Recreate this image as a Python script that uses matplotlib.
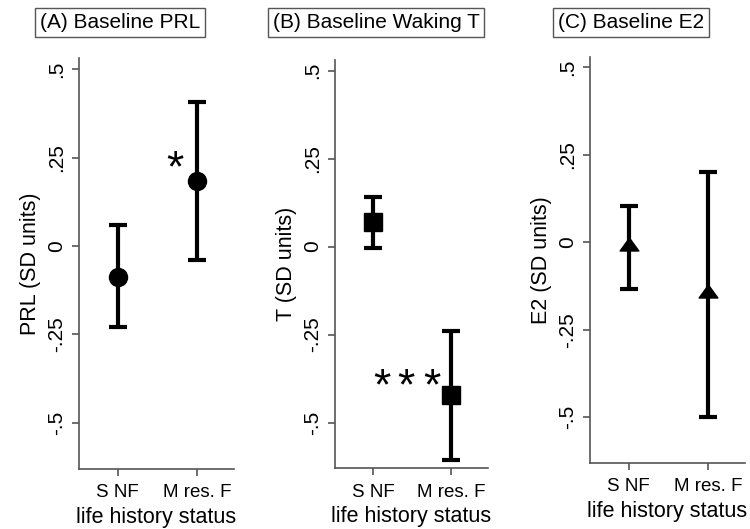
import matplotlib.pyplot as plt
from matplotlib.path import Path

plt.rcParams["font.family"] = ["Liberation Sans", "DejaVu Sans"]

groups = ["S NF", "M res. F"]
xpos = [1, 2]

prl_est = [-0.088, 0.184]
prl_lo = [-0.229, -0.039]
prl_hi = [0.059, 0.407]

t_est = [0.069, -0.422]
t_lo = [-0.005, -0.607]
t_hi = [0.141, -0.240]

e2_est = [-0.011, -0.145]
e2_lo = [-0.135, -0.500]
e2_hi = [0.103, 0.201]

yticks = [-0.5, -0.25, 0, 0.25, 0.5]
ytick_labels = ["-.5", "-.25", "0", ".25", ".5"]

titles = ["(A) Baseline PRL", "(B) Baseline Waking T", "(C) Baseline E2"]
ylabels = ["PRL (SD units)", "T (SD units)", "E2 (SD units)"]
# significance stars: (x, y) centre of each star, in data units
star_marks = [[(1.72, 0.241)],
              [(1.106, -0.376), (1.42, -0.376), (1.748, -0.376)],
              []]

tri = Path([(-1, -0.48), (1, -0.48), (0, 0.9), (-1, -0.48)],
           [Path.MOVETO, Path.LINETO, Path.LINETO, Path.CLOSEPOLY])
markers = ["o", "s", tri]
msizes = [13, 12.5, 13.5]

W, H = 750, 529
fig = plt.figure(figsize=(7.5, 5.29), dpi=100)

# axes boxes in pixels: left, right, top, bottom
boxes = [(79, 234, 58.4, 469), (335, 488, 60, 468.3), (590, 745, 56.7, 462.7)]
title_x = [40, 273, 558]

data = [(prl_est, prl_lo, prl_hi), (t_est, t_lo, t_hi), (e2_est, e2_lo, e2_hi)]
gray = "#555555"
star_fs = 32

for i, (est, lo, hi) in enumerate(data):
    l, r, t, b = boxes[i]
    ax = fig.add_axes([l / W, 1 - b / H, (r - l) / W, (b - t) / H])
    yerr = [[e - a for e, a in zip(est, lo)], [c - e for e, c in zip(est, hi)]]
    ax.errorbar(xpos, est, yerr=yerr, fmt="none", ecolor="black",
                elinewidth=3, capsize=6.5, capthick=3)
    ax.plot(xpos, est, linestyle="none", marker=markers[i], color="black",
            markersize=msizes[i])
    ax.set_xlim(0.51, 2.47)
    ax.set_ylim(-0.63, 0.53)
    ax.set_yticks(yticks)
    ax.set_yticklabels(ytick_labels, rotation=90, va="center")
    ax.set_xticks(xpos)
    ax.set_xticklabels(groups)
    ax.tick_params(color=gray, width=1.2, length=5)
    ax.tick_params(axis="y", pad=4, labelsize=15)
    ax.tick_params(axis="x", pad=6, labelsize=13.5)
    for s in ["top", "right"]:
        ax.spines[s].set_visible(False)
    for s in ["left", "bottom"]:
        ax.spines[s].set_color(gray)
        ax.spines[s].set_linewidth(1.2)
    ax.set_xlabel("life history status", fontsize=15.5, labelpad=4)
    ax.set_ylabel(ylabels[i], fontsize=15.5, labelpad=5)
    for sx, sy in star_marks[i]:
        # asterisk glyph sits high in the em box, so drop the baseline
        ax.annotate("*", xy=(sx, sy), xytext=(0, -0.46 * star_fs),
                    textcoords="offset points", fontsize=star_fs,
                    ha="center", va="baseline")
    fig.text(title_x[i] / W, 1 - 22.5 / H, titles[i], fontsize=15, va="center",
             ha="left",
             bbox=dict(boxstyle="square,pad=0.22", facecolor="white",
                       edgecolor=gray, linewidth=1))

fig.savefig("out.png", dpi=100)
